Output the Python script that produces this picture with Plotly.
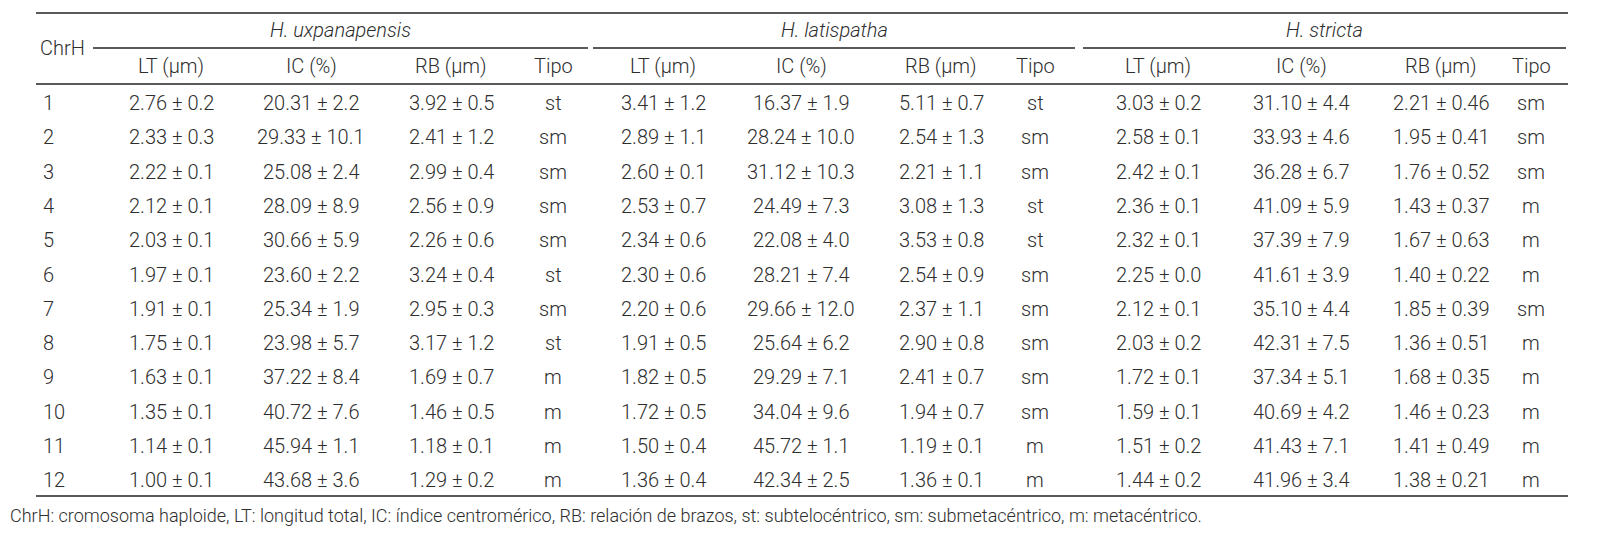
import plotly.graph_objects as go

species = ["H. uxpanapensis", "H. latispatha", "H. stricta"]
subcols = ["LT (µm)", "IC (%)", "RB (µm)", "Tipo"]
chrh = [str(i) for i in range(1, 13)]
ux = [
 ["2.76 ± 0.2","20.31 ± 2.2","3.92 ± 0.5","st"],
 ["2.33 ± 0.3","29.33 ± 10.1","2.41 ± 1.2","sm"],
 ["2.22 ± 0.1","25.08 ± 2.4","2.99 ± 0.4","sm"],
 ["2.12 ± 0.1","28.09 ± 8.9","2.56 ± 0.9","sm"],
 ["2.03 ± 0.1","30.66 ± 5.9","2.26 ± 0.6","sm"],
 ["1.97 ± 0.1","23.60 ± 2.2","3.24 ± 0.4","st"],
 ["1.91 ± 0.1","25.34 ± 1.9","2.95 ± 0.3","sm"],
 ["1.75 ± 0.1","23.98 ± 5.7","3.17 ± 1.2","st"],
 ["1.63 ± 0.1","37.22 ± 8.4","1.69 ± 0.7","m"],
 ["1.35 ± 0.1","40.72 ± 7.6","1.46 ± 0.5","m"],
 ["1.14 ± 0.1","45.94 ± 1.1","1.18 ± 0.1","m"],
 ["1.00 ± 0.1","43.68 ± 3.6","1.29 ± 0.2","m"],
]
la = [
 ["3.41 ± 1.2","16.37 ± 1.9","5.11 ± 0.7","st"],
 ["2.89 ± 1.1","28.24 ± 10.0","2.54 ± 1.3","sm"],
 ["2.60 ± 0.1","31.12 ± 10.3","2.21 ± 1.1","sm"],
 ["2.53 ± 0.7","24.49 ± 7.3","3.08 ± 1.3","st"],
 ["2.34 ± 0.6","22.08 ± 4.0","3.53 ± 0.8","st"],
 ["2.30 ± 0.6","28.21 ± 7.4","2.54 ± 0.9","sm"],
 ["2.20 ± 0.6","29.66 ± 12.0","2.37 ± 1.1","sm"],
 ["1.91 ± 0.5","25.64 ± 6.2","2.90 ± 0.8","sm"],
 ["1.82 ± 0.5","29.29 ± 7.1","2.41 ± 0.7","sm"],
 ["1.72 ± 0.5","34.04 ± 9.6","1.94 ± 0.7","sm"],
 ["1.50 ± 0.4","45.72 ± 1.1","1.19 ± 0.1","m"],
 ["1.36 ± 0.4","42.34 ± 2.5","1.36 ± 0.1","m"],
]
st = [
 ["3.03 ± 0.2","31.10 ± 4.4","2.21 ± 0.46","sm"],
 ["2.58 ± 0.1","33.93 ± 4.6","1.95 ± 0.41","sm"],
 ["2.42 ± 0.1","36.28 ± 6.7","1.76 ± 0.52","sm"],
 ["2.36 ± 0.1","41.09 ± 5.9","1.43 ± 0.37","m"],
 ["2.32 ± 0.1","37.39 ± 7.9","1.67 ± 0.63","m"],
 ["2.25 ± 0.0","41.61 ± 3.9","1.40 ± 0.22","m"],
 ["2.12 ± 0.1","35.10 ± 4.4","1.85 ± 0.39","sm"],
 ["2.03 ± 0.2","42.31 ± 7.5","1.36 ± 0.51","m"],
 ["1.72 ± 0.1","37.34 ± 5.1","1.68 ± 0.35","m"],
 ["1.59 ± 0.1","40.69 ± 4.2","1.46 ± 0.23","m"],
 ["1.51 ± 0.2","41.43 ± 7.1","1.41 ± 0.49","m"],
 ["1.44 ± 0.2","41.96 ± 3.4","1.38 ± 0.21","m"],
]
footnote = "ChrH: cromosoma haploide, LT: longitud total, IC: índice centromérico, RB: relación de brazos, st: subtelocéntrico, sm: submetacéntrico, m: metacéntrico."

data = [ux, la, st]
colx = [[163, 303, 443, 545], [655, 793, 933, 1027], [1150, 1293, 1433, 1523]]
spx = [(85, 580), (585, 1067), (1075, 1558)]
row0, dy = 95, 34.3
C = "#2e2e2e"
F = dict(family="Roboto", size=20, color=C, weight=300)

fig = go.Figure()
ann = []
def T(x, y, s, xa="center", italic=False, size=20):
    f = dict(F)
    f["size"] = size
    if italic:
        f["style"] = "italic"
    ann.append(dict(x=x, y=y, xref="x", yref="y", text=s, showarrow=False, xanchor=xa, yanchor="middle", font=f))

T(30, 40, "ChrH", "left")
for k in range(3):
    T((spx[k][0] + spx[k][1]) / 2, 22, species[k], italic=True)
    for j in range(4):
        T(colx[k][j], 58, subcols[j])
for i in range(12):
    y = row0 + i * dy
    T(33, y, chrh[i], "left")
    for k in range(3):
        for j in range(4):
            T(colx[k][j], y, data[k][i][j])
T(0, 507, footnote, "left", size=18)

shapes = []
def L(x0, x1, y, w=1.3):
    shapes.append(dict(type="line", xref="x", yref="y", x0=x0, x1=x1, y0=y, y1=y, line=dict(color="#222", width=w)))
L(28, 1560, 5)
for a, b in spx:
    L(a, b, 40)
L(28, 1560, 76)
L(28, 1560, 488)

fig.update_layout(width=1611, height=534, margin=dict(l=0, r=0, t=0, b=0),
                  paper_bgcolor="white", plot_bgcolor="white",
                  xaxis=dict(range=[0, 1611], visible=False, fixedrange=True),
                  yaxis=dict(range=[534, 0], visible=False, fixedrange=True),
                  annotations=ann, shapes=shapes, showlegend=False)
fig.write_html("out.html")
